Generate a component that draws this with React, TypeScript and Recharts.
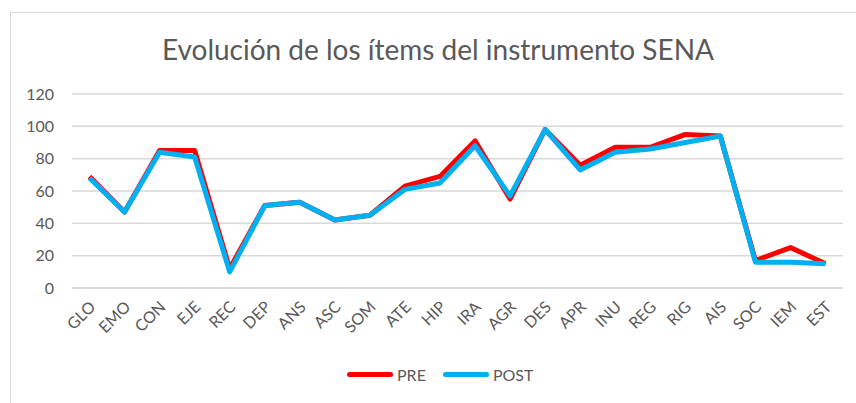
import React from 'react';
import { LineChart, Line, XAxis, YAxis, CartesianGrid } from 'recharts';

const items = ['GLO', 'EMO', 'CON', 'EJE', 'REC', 'DEP', 'ANS', 'ASC', 'SOM', 'ATE', 'HIP', 'IRA', 'AGR', 'DES', 'APR', 'INU', 'REG', 'RIG', 'AIS', 'SOC', 'IEM', 'EST'];
const pre = [69, 47, 85, 85, 12, 51, 53, 42, 45, 63, 69, 91, 55, 98, 76, 87, 87, 95, 94, 17, 25, 15];
const post = [68, 47, 84, 81, 10, 51, 53, 42, 45, 61, 65, 88, 57, 98, 73, 84, 86, 90, 94, 16, 16, 15];
const yTicks = [0, 20, 40, 60, 80, 100, 120];

const data = items.map((name, i) => ({ name, PRE: pre[i], POST: post[i] }));

const FONT = 'Lato, "Open Sans", sans-serif';
const TEXT = '#595959';

const AngledTick = ({ x, y, payload }: any) => (
    <text
        x={x + 7}
        y={y + 12}
        transform={`rotate(-45, ${x + 7}, ${y + 12})`}
        textAnchor="end"
        fill={TEXT}
        fontSize={16}
        fontFamily={FONT}
    >
        {payload.value}
    </text>
);

const LegendItem = ({ color, label }: { color: string; label: string }) => (
    <span style={{ display: 'flex', alignItems: 'center' }}>
        <span style={{ width: 46, height: 5, background: color, borderRadius: 3, marginRight: 4 }} />
        {label}
    </span>
);

export default function App() {
    return (
        <div style={{ position: 'absolute', left: 0, top: 0, width: 856, height: 403, background: '#fff', overflow: 'hidden' }}>
            <div style={{ position: 'absolute', left: 10, top: 12, width: 900, height: 500, borderTop: '1px solid #D9D9D9', borderLeft: '1px solid #D9D9D9' }} />
            <div style={{ position: 'absolute', top: 32, left: 0, width: 876, textAlign: 'center', fontFamily: FONT, fontSize: 28, color: TEXT }}>
                Evolución de los ítems del instrumento SENA
            </div>
            <LineChart width={856} height={403} data={data} margin={{ top: 94, right: 13, left: 12, bottom: 65 }} style={{ position: 'absolute', left: 0, top: 0 }}>
                <CartesianGrid vertical={false} stroke="#D9D9D9" strokeWidth={1.5} />
                <XAxis dataKey="name" interval={0} tick={<AngledTick />} tickLine={false} axisLine={{ stroke: '#D9D9D9', strokeWidth: 1.5 }} height={50} padding={{ left: 17.5, right: 17.5 }} />
                <YAxis domain={[0, 120]} ticks={yTicks} width={60} axisLine={false} tickLine={false} tick={{ fill: TEXT, fontSize: 16, fontFamily: FONT }} tickMargin={12} />
                <Line type="linear" dataKey="PRE" stroke="#FF0000" strokeWidth={5} dot={false} isAnimationActive={false} strokeLinejoin="round" />
                <Line type="linear" dataKey="POST" stroke="#00B0F0" strokeWidth={5} dot={false} isAnimationActive={false} strokeLinejoin="round" />
            </LineChart>
            <div style={{ position: 'absolute', top: 365, left: 347, display: 'flex', gap: 17, fontFamily: FONT, fontSize: 16, color: TEXT }}>
                <LegendItem color="#FF0000" label="PRE" />
                <LegendItem color="#00B0F0" label="POST" />
            </div>
        </div>
    );
}
